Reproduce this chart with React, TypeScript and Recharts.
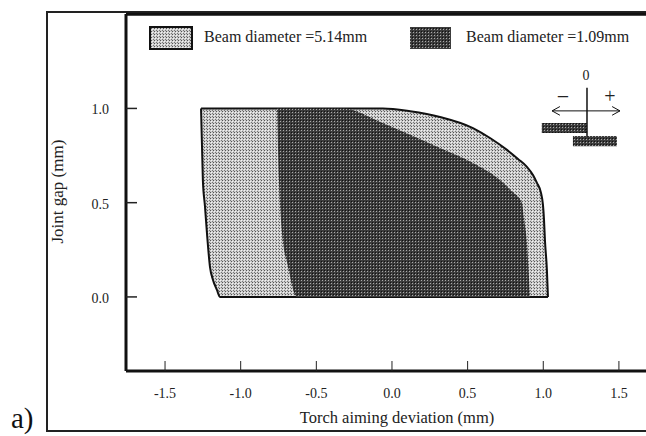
import { Area, ComposedChart, Legend, ReferenceArea, ReferenceDot, ReferenceLine, XAxis, YAxis } from "recharts";

const FONT = '"Liberation Serif", serif';

const xTicks = [-1.5, -1, -0.5, 0, 0.5, 1, 1.5];
const yTicks = [0, 0.5, 1];

// outline of the two regions
const wideX = [-1.262, -1.25, -1.236, -1.223, -1.203, -1.183, -1.157, -1.137, -0.06, 0.12, 0.317, 0.535, 0.648, 0.76, 0.833, 0.892, 0.932, 0.958, 0.985, 0.998, 1.005, 1.011, 1.024, 1.031];
const wideLow = [1, 0.62, 0.48, 0.34, 0.16, 0.09, 0.037, 0, 0, 0, 0, 0, 0, 0, 0, 0, 0, 0, 0, 0, 0, 0, 0, 0];
const wideHigh = [1, 1, 1, 1, 1, 1, 1, 1, 1, 0.985, 0.955, 0.896, 0.843, 0.78, 0.732, 0.69, 0.647, 0.605, 0.552, 0.488, 0.408, 0.302, 0.143, 0];

const narrowX = [-0.76, -0.747, -0.727, -0.687, -0.628, -0.32, -0.08, 0.12, 0.317, 0.535, 0.714, 0.786, 0.859, 0.872, 0.892, 0.912];
const narrowLow = [1, 0.62, 0.34, 0.16, 0, 0, 0, 0, 0, 0, 0, 0, 0, 0, 0, 0];
const narrowHigh = [1, 1, 1, 1, 1, 1, 0.93, 0.86, 0.79, 0.71, 0.62, 0.565, 0.5, 0.42, 0.286, 0];

const allX = Array.from(new Set([...wideX, ...narrowX])).sort((a, b) => a - b);
const table = allX.map((x) => {
  const w = wideX.indexOf(x);
  const n = narrowX.indexOf(x);
  return {
    x,
    wide: w >= 0 ? [wideLow[w], wideHigh[w]] : null,
    narrow: n >= 0 ? [narrowLow[n], narrowHigh[n]] : null,
  };
});

// height 0 so the legend does not take room from the plot
const LegendRow = () => (
  <div style={{ position: "relative", width: 520, height: 0, fontFamily: FONT, fontSize: 16, color: "#222" }}>
    <svg width={520} height={30} style={{ position: "absolute", left: 0, top: 0 }}>
      <rect x={23} y={2} width={42} height={22} fill="url(#lightDots)" stroke="#111" strokeWidth={2} />
      <rect x={283} y={2} width={41} height={22} fill="url(#darkDots)" />
    </svg>
    <span style={{ position: "absolute", left: 77, top: 3, whiteSpace: "nowrap" }}>Beam diameter =5.14mm</span>
    <span style={{ position: "absolute", left: 339, top: 3, whiteSpace: "nowrap" }}>Beam diameter =1.09mm</span>
  </div>
);

export default function App() {
  return (
    <div style={{ position: "absolute", left: 0, top: 0, width: 646, height: 436, background: "#fff", overflow: "hidden" }}>
      <div style={{ position: "absolute", left: 46, top: 11, width: 600, height: 417, borderLeft: "2px solid #222", borderBottom: "2px solid #222", borderTop: "2px solid #222" }} />
      <div style={{ position: "absolute", left: 11, top: 402, fontFamily: FONT, fontSize: 29, color: "#111" }}>a)</div>
      <ComposedChart
        width={646}
        height={436}
        data={table}
        margin={{ top: 14, right: 0, bottom: 0, left: 0 }}
        style={{ position: "absolute", left: 0, top: 0 }}
      >
        <defs>
          <pattern id="lightDots" width={3} height={3} patternUnits="userSpaceOnUse">
            <rect width={3} height={3} fill="#cdcdcd" />
            <rect width={1} height={1} fill="#555" />
            <rect x={2} y={2} width={1} height={1} fill="#777" />
            <rect x={1} y={1} width={1} height={1} fill="#f2f2f2" />
          </pattern>
          <pattern id="darkDots" width={3} height={3} patternUnits="userSpaceOnUse">
            <rect width={3} height={3} fill="#3c3c3c" />
            <rect width={1} height={1} fill="#111" />
            <rect x={1} y={1} width={1} height={1} fill="#aaa" />
          </pattern>
        </defs>
        <XAxis
          dataKey="x"
          type="number"
          domain={[-1.758, 1.679]}
          ticks={xTicks}
          tickFormatter={(v: number) => v.toFixed(1)}
          allowDataOverflow
          height={65}
          tickSize={-10}
          tickMargin={27}
          axisLine={{ stroke: "#111", strokeWidth: 3 }}
          tickLine={{ stroke: "#222", strokeWidth: 1 }}
          tick={{ fontFamily: FONT, fontSize: 14, fill: "#222" }}
          label={{ value: "Torch aiming deviation  (mm)", position: "insideBottom", offset: 13, dx: 11, fontFamily: FONT, fontSize: 16.5, fill: "#222" }}
        />
        <YAxis
          type="number"
          domain={[-0.393, 1.501]}
          ticks={yTicks}
          tickFormatter={(v: number) => v.toFixed(1)}
          allowDataOverflow
          width={126}
          tickSize={-11}
          tickMargin={28}
          axisLine={{ stroke: "#111", strokeWidth: 3 }}
          tickLine={{ stroke: "#222", strokeWidth: 1.5 }}
          tick={{ fontFamily: FONT, fontSize: 14, fill: "#222", dy: 1 }}
          label={{ value: "Joint gap (mm)", angle: -90, position: "insideLeft", offset: 57, dy: 51, fontFamily: FONT, fontSize: 17, fill: "#222" }}
        />
        <Legend
          content={LegendRow}
          wrapperStyle={{ position: "absolute", left: 127, top: 25, width: 520, bottom: "auto" }}
        />
        <Area
          dataKey="wide"
          name="Beam diameter =5.14mm"
          type="monotoneX"
          fill="url(#lightDots)"
          fillOpacity={1}
          stroke="#111"
          strokeWidth={2}
          connectNulls
          isAnimationActive={false}
          dot={false}
          activeDot={false}
        />
        <Area
          dataKey="narrow"
          name="Beam diameter =1.09mm"
          type="monotoneX"
          fill="url(#darkDots)"
          fillOpacity={1}
          stroke="none"
          connectNulls
          isAnimationActive={false}
          dot={false}
          activeDot={false}
        />
        <ReferenceLine y={1.5} stroke="#111" strokeWidth={3} ifOverflow="visible" />
        {/* offset sketch, top right */}
        <ReferenceArea x1={0.99} x2={1.289} y1={0.87} y2={0.923} fill="url(#darkDots)" fillOpacity={1} stroke="none" />
        <ReferenceArea x1={1.196} x2={1.487} y1={0.8} y2={0.854} fill="url(#darkDots)" fillOpacity={1} stroke="none" />
        <ReferenceLine segment={[{ x: 1.289, y: 1.11 }, { x: 1.289, y: 0.85 }]} stroke="#111" strokeWidth={1.5} />
        <ReferenceLine segment={[{ x: 1.058, y: 0.987 }, { x: 1.507, y: 0.987 }]} stroke="#111" strokeWidth={1} />
        <ReferenceLine segment={[{ x: 1.058, y: 0.987 }, { x: 1.11, y: 1.01 }]} stroke="#111" strokeWidth={1} />
        <ReferenceLine segment={[{ x: 1.058, y: 0.987 }, { x: 1.11, y: 0.964 }]} stroke="#111" strokeWidth={1} />
        <ReferenceLine segment={[{ x: 1.507, y: 0.987 }, { x: 1.455, y: 1.01 }]} stroke="#111" strokeWidth={1} />
        <ReferenceLine segment={[{ x: 1.507, y: 0.987 }, { x: 1.455, y: 0.964 }]} stroke="#111" strokeWidth={1} />
        <ReferenceDot x={1.283} y={1.175} r={0} stroke="none" label={{ value: "0", position: "center", fontFamily: FONT, fontSize: 14, fill: "#222" }} />
        <ReferenceDot x={1.13} y={1.065} r={0} stroke="none" label={{ value: "−", position: "center", fontFamily: FONT, fontSize: 22, fill: "#222" }} />
        <ReferenceDot x={1.44} y={1.065} r={0} stroke="none" label={{ value: "+", position: "center", fontFamily: FONT, fontSize: 20, fill: "#222" }} />
      </ComposedChart>
    </div>
  );
}
